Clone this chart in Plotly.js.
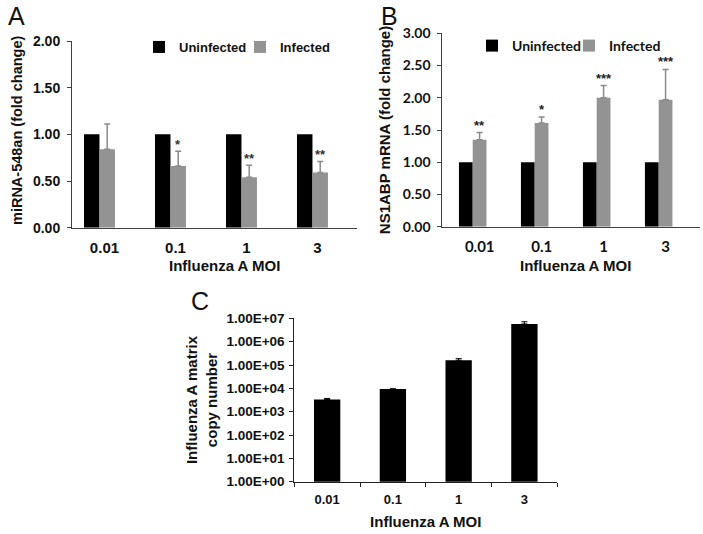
<!DOCTYPE html>
<html>
<head>
<meta charset="utf-8">
<script src="https://cdn.plot.ly/plotly-3.0.1.min.js"></script>
<style>html,body{margin:0;padding:0;background:#fff;} #chart{width:703px;height:534px;}</style>
</head>
<body>
<div id="chart"></div>
<script>
// ---- data ----
const moi = ['0.01', '0.1', '1', '3'];

// Panel A: miRNA-548an fold change
const aUninfected = [1.00, 1.00, 1.00, 1.00];
const aInfected = [0.84, 0.66, 0.54, 0.59];
const aInfectedErr = [0.27, 0.16, 0.13, 0.12];
const aStars = ['', '*', '**', '**'];

// Panel B: NS1ABP mRNA fold change
const bUninfected = [1.00, 1.00, 1.00, 1.00];
const bInfected = [1.35, 1.61, 2.00, 1.97];
const bInfectedErr = [0.11, 0.09, 0.19, 0.47];
const bStars = ['**', '*', '***', '***'];

// Panel C: Influenza A matrix copy number
const cCopies = [3300, 9300, 160000, 5700000];
const cCopiesErr = [400, 300, 27000, 1400000];
const cTickVals = [1, 10, 100, 1000, 10000, 100000, 1000000, 10000000];
const cTickText = ['1.00E+00', '1.00E+01', '1.00E+02', '1.00E+03', '1.00E+04', '1.00E+05', '1.00E+06', '1.00E+07'];
const aTickVals = [0, 0.5, 1, 1.5, 2];
const bTickVals = [0, 0.5, 1, 1.5, 2, 2.5, 3];

// ---- styles ----
const BLACK = '#000000';
const GREY = '#939393';
const AX = '#404040';
const FA = 'Liberation Sans, Arial, sans-serif';
const FB = 'Lato, Liberation Sans, sans-serif';
const barWA = 0.218, barWB = 0.222;
const fa = (size) => ({family: FA, size: size, color: '#111', weight: 'bold'});
const fb = (size) => ({family: FB, size: size, color: '#111', weight: 'bold'});

const traces = [
  {type: 'bar', name: 'Uninfected', x: moi, y: aUninfected, xaxis: 'x', yaxis: 'y',
   marker: {color: BLACK}, width: barWA, offset: -barWA, legend: 'legend'},
  {type: 'bar', name: 'Infected', x: moi, y: aInfected, xaxis: 'x', yaxis: 'y',
   marker: {color: GREY}, width: barWA, offset: 0, legend: 'legend',
   error_y: {type: 'data', array: aInfectedErr, arrayminus: aInfectedErr.map(() => 0), color: '#8a8a8a', thickness: 1.5, width: 3}},
  {type: 'bar', name: 'Uninfected', x: moi, y: bUninfected, xaxis: 'x2', yaxis: 'y2',
   marker: {color: BLACK}, width: barWB, offset: -barWB, legend: 'legend2'},
  {type: 'bar', name: 'Infected', x: moi, y: bInfected, xaxis: 'x2', yaxis: 'y2',
   marker: {color: GREY}, width: barWB, offset: 0, legend: 'legend2',
   error_y: {type: 'data', array: bInfectedErr, arrayminus: bInfectedErr.map(() => 0), color: '#8a8a8a', thickness: 1.5, width: 3}},
  {type: 'bar', name: 'Copy number', x: moi, y: cCopies, xaxis: 'x3', yaxis: 'y3',
   marker: {color: BLACK}, width: 0.4, showlegend: false,
   error_y: {type: 'data', array: cCopiesErr, arrayminus: cCopiesErr.map(() => 0), color: BLACK, thickness: 1, width: 3}}
];

const annotations = [];
aStars.forEach((s, i) => {
  if (!s) return;
  annotations.push({xref: 'x', yref: 'y', x: i + barWA / 2, y: aInfected[i] + aInfectedErr[i], text: s,
    showarrow: false, yanchor: 'bottom', yshift: -3, font: {family: FA, size: 13, color: '#333', weight: 'bold'}});
});
bStars.forEach((s, i) => {
  annotations.push({xref: 'x2', yref: 'y2', x: i + barWB / 2, y: bInfected[i] + bInfectedErr[i], text: s,
    showarrow: false, yanchor: 'bottom', yshift: -2, font: {family: FA, size: 13, color: '#222', weight: 'bold'}});
});
// panel letters
[['A', 16, 16], ['B', 389, 16], ['C', 200, 301]].forEach(([t, px, py]) => {
  annotations.push({xref: 'paper', yref: 'paper', x: px / 703, y: 1 - py / 534, text: t, showarrow: false,
    xanchor: 'center', yanchor: 'middle', font: {family: FA, size: 25, color: '#111'}});
});
// axis titles placed as in the figure
annotations.push({xref: 'paper', yref: 'paper', x: 17 / 703, y: 1 - 130 / 534, text: 'miRNA-548an (fold change)',
  textangle: -90, showarrow: false, xanchor: 'center', yanchor: 'middle', font: fa(14.5)});
annotations.push({xref: 'paper', yref: 'paper', x: 224 / 703, y: 1 - 265 / 534, text: 'Influenza A MOI',
  showarrow: false, xanchor: 'center', yanchor: 'middle', font: fa(15)});
annotations.push({xref: 'paper', yref: 'paper', x: 575 / 703, y: 1 - 265 / 534, text: 'Influenza A MOI',
  showarrow: false, xanchor: 'center', yanchor: 'middle', font: fa(15)});

const layout = {
  width: 703, height: 534,
  margin: {l: 0, r: 0, t: 0, b: 0},
  paper_bgcolor: '#fff', plot_bgcolor: 'rgba(0,0,0,0)',
  barmode: 'overlay',
  showlegend: true,
  xaxis: {domain: [0.1024, 0.5078], anchor: 'y', type: 'category', range: [-0.387, 3.627],
    showline: true, linecolor: AX, linewidth: 1, ticks: '', showgrid: false, zeroline: false,
    ticklabelshift: 5, ticklabelstandoff: 6,
    tickfont: fa(15)},
  yaxis: {domain: [0.5736, 0.9232], anchor: 'x', range: [0, 2], tickvals: aTickVals, tickformat: '.2f',
    showline: true, linecolor: AX, linewidth: 1, ticks: 'outside', ticklen: 4, tickcolor: AX,
    showgrid: false, zeroline: false, ticklabelstandoff: 4,
    tickfont: fa(14)},
  xaxis2: {domain: [0.6292, 0.9957], anchor: 'y2', type: 'category', range: [-0.49, 3.666],
    showline: true, linecolor: AX, linewidth: 1, ticks: '', showgrid: false, zeroline: false,
    ticklabelshift: 7, ticklabelstandoff: 6,
    tickfont: fb(15)},
  yaxis2: {domain: [0.5755, 0.9376], anchor: 'x2', range: [0, 3], tickvals: bTickVals, tickformat: '.2f',
    showline: true, linecolor: AX, linewidth: 1, ticks: 'outside', ticklen: 4, tickcolor: AX,
    showgrid: false, zeroline: false, ticklabelstandoff: 4,
    tickfont: fb(14),
    title: {text: 'NS1ABP mRNA (fold change)', font: fa(15), standoff: 8}},
  xaxis3: {domain: [0.4186, 0.7927], anchor: 'y3', type: 'category', range: [-0.5, 3.5],
    showline: true, linecolor: '#222', linewidth: 1, ticks: 'outside', ticklen: 4, tickcolor: '#222',
    tickson: 'boundaries', showgrid: false, zeroline: false, ticklabelstandoff: 6,
    tickfont: fa(13),
    title: {text: 'Influenza A MOI', font: fa(15), standoff: 10}},
  yaxis3: {domain: [0.0979, 0.4039], anchor: 'x3', type: 'log', range: [0, 7], tickvals: cTickVals, ticktext: cTickText,
    showline: true, linecolor: '#222', linewidth: 1, ticks: 'outside', ticklen: 4, tickcolor: '#222',
    showgrid: false, zeroline: false, ticklabelstandoff: 2,
    tickfont: fa(13.5),
    title: {text: 'Influenza A matrix<br>copy number', font: fa(15), standoff: 5}},
  legend: {orientation: 'h', x: 139 / 703, y: 1 - 47 / 534, xanchor: 'left', yanchor: 'middle',
    bgcolor: 'rgba(0,0,0,0)', font: fa(13), traceorder: 'normal', entrywidth: 56},
  legend2: {orientation: 'h', x: 472 / 703, y: 1 - 46 / 534, xanchor: 'left', yanchor: 'middle',
    bgcolor: 'rgba(0,0,0,0)', font: fb(14), traceorder: 'normal', entrywidth: 52},
  annotations: annotations
};

Plotly.newPlot('chart', traces, layout, {displayModeBar: false, staticPlot: true});
</script>
</body>
</html>
